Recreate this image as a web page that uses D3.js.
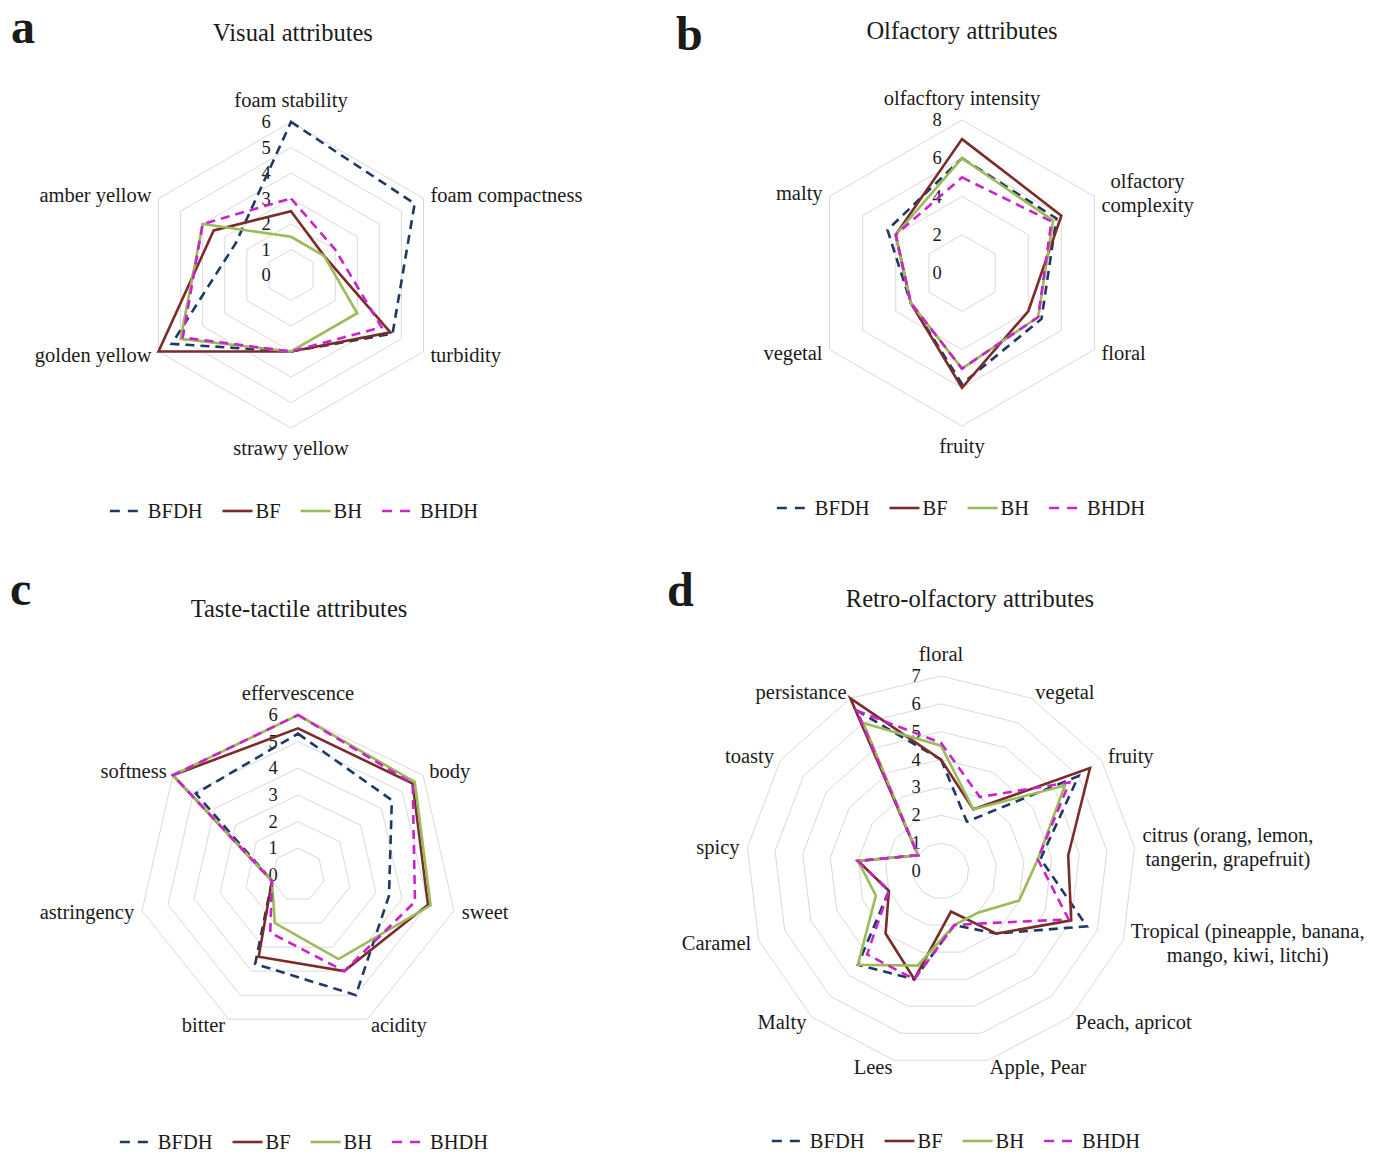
<!DOCTYPE html>
<html>
<head>
<meta charset="utf-8">
<script src="https://cdn.jsdelivr.net/npm/d3@7"></script>
<style>
  body { margin: 0; background: #fff; }
  text { font-family: "Liberation Serif", "Times New Roman", serif; fill: #1a1a1a; }
</style>
</head>
<body>
<svg id="chart" width="1386" height="1156"></svg>
<script>
// Series names shared by all four panels.
const seriesNames = ["BFDH", "BF", "BH", "BHDH"];

// a: visual attributes
const visualAxes = ["foam stability", "foam compactness", "turbidity", "strawy yellow", "golden yellow", "amber yellow"];
const visualTicks = [0, 1, 2, 3, 4, 5, 6];
const visualBFDH = [6, 5.6, 4.6, 3, 5.4, 2.5];
const visualBF = [2.5, 1.5, 4.5, 3, 6, 3.5];
const visualBH = [1.5, 1.5, 3, 3, 5, 4];
const visualBHDH = [3, 2, 4.1, 3, 4.9, 4];

// b: olfactory attributes
const olfactoryAxes = ["olfacftory intensity", "olfactory\ncomplexity", "floral", "fruity", "vegetal", "malty"];
const olfactoryTicks = [0, 2, 4, 6, 8];
const olfactoryBFDH = [6, 5.7, 4.8, 5.8, 3.1, 4.5];
const olfactoryBF = [7, 6, 4, 6, 3.1, 4];
const olfactoryBH = [6, 5.5, 4.6, 5, 3.1, 4];
const olfactoryBHDH = [5, 5.4, 4.6, 5, 3.1, 4];

// c: taste-tactile attributes
const tasteAxes = ["effervescence", "body", "sweet", "acidity", "bitter", "astringency", "softness"];
const tasteTicks = [0, 1, 2, 3, 4, 5, 6];
const tasteBFDH = [5.3, 4.5, 3.5, 5, 3.7, 1, 4.9];
const tasteBF = [5.5, 5.5, 5, 4, 3.4, 1, 6];
const tasteBH = [6, 5.6, 5.1, 3.5, 2, 1, 6];
const tasteBHDH = [6, 5.5, 4.5, 4, 2.4, 1, 6];

// d: retro-olfactory attributes
const retroAxes = ["floral", "vegetal", "fruity", "citrus (orang, lemon,\ntangerin, grapefruit)",
  "Tropical (pineapple, banana,\nmango, kiwi, litchi)", "Peach, apricot", "Apple, Pear", "Lees",
  "Malty", "Caramel", "spicy", "toasty", "persistance"];
const retroTicks = [0, 1, 2, 3, 4, 5, 6, 7];
const retroBFDH = [4, 2, 6, 3.6, 5.6, 3, 2, 4, 4.5, 2, 3, 1, 6.5];
const retroBF = [4, 2.5, 6.5, 4.6, 5, 3, 1.5, 4, 3, 2, 3, 1, 7];
const retroBH = [4.5, 2.5, 5.4, 3.5, 3, 2, 2, 3.5, 4.5, 2.5, 3, 1, 6];
const retroBHDH = [4.6, 3, 5.6, 3.5, 4.9, 2.5, 2, 4, 4, 2, 3, 1, 6.5];

const seriesStyle = {
    BFDH: { color: "#1f3864", dash: "9,6" },
    BF: { color: "#7a2c2a", dash: null },
    BH: { color: "#9bbb59", dash: null },
    BHDH: { color: "#cc22cc", dash: "9,6" }
};

const svg = d3.select("#chart");

function drawRadar(cfg) {
    /*
    Draws one radar panel: grid rings, tick labels, series polygons,
    axis labels, title, panel letter and legend.
    */

    let g = svg.append("g");
    let n = cfg.axes.length;
    let maxVal = d3.max(cfg.ticks);

    let r = d3.scaleLinear().domain([0, maxVal]).range([0, cfg.radius]);
    let angle = d3.scaleLinear().domain([0, n]).range([0, 2 * Math.PI]);

    let plot = g.append("g")
        .attr("transform", "translate(" + cfg.cx + "," + cfg.cy + ")");

    let ring = d3.lineRadial()
        .angle(function(d, i) { return angle(i); })
        .radius(function(d) { return r(d); })
        .curve(d3.curveLinearClosed);

    // Grid rings (skip 0, which is the center).
    plot.selectAll(".ring")
        .data(cfg.ticks.filter(function(t) { return t > 0; }))
        .enter().append("path")
        .attr("class", "ring")
        .attr("d", function(t) { return ring(d3.range(n).map(function() { return t; })); })
        .attr("fill", "none")
        .attr("stroke", "#d9d9d9")
        .attr("stroke-width", 1);

    // Tick labels left of the vertical axis.
    plot.selectAll(".tick")
        .data(cfg.ticks)
        .enter().append("text")
        .attr("x", -25)
        .attr("y", function(t) { return -r(t); })
        .attr("text-anchor", "middle")
        .attr("dominant-baseline", "central")
        .attr("font-size", 18.5)
        .text(function(t) { return t; });

    // Series polygons.
    cfg.series.forEach(function(values, k) {
        let style = seriesStyle[seriesNames[k]];
        plot.append("path")
            .attr("d", ring(values))
            .attr("fill", "none")
            .attr("stroke", style.color)
            .attr("stroke-width", 2.6)
            .attr("stroke-linejoin", "miter")
            .attr("stroke-dasharray", style.dash);
    });

    // Axis labels.
    cfg.axes.forEach(function(label, i) {
        let a = angle(i);
        let s = Math.sin(a), c = Math.cos(a);
        let vx = r(maxVal) * s, vy = -r(maxVal) * c;
        let lines = label.split("\n");
        let t = plot.append("text")
            .attr("font-size", 20.5)
            .attr("dominant-baseline", "central");
        let x, y, anchor;
        if (Math.abs(s) < 0.01) {
            anchor = "middle";
            x = vx;
            y = vy + (c > 0 ? -22 : 20);
        } else {
            anchor = s > 0 ? "start" : "end";
            x = vx + 8 * s;
            y = vy - 7 * c;
        }
        lines.forEach(function(line, j) {
            t.append("tspan")
                .attr("y", y + (j - (lines.length - 1) / 2) * 24)
                .text(line);
        });
        if (lines.length > 1) {
            // Centre the lines within the block, keep block edge at x.
            let widths = [];
            t.selectAll("tspan").each(function() { widths.push(this.getComputedTextLength()); });
            let w = d3.max(widths);
            let mid = anchor === "start" ? x + w / 2 : (anchor === "end" ? x - w / 2 : x);
            t.attr("text-anchor", "middle");
            t.selectAll("tspan").attr("x", mid);
        } else {
            t.attr("text-anchor", anchor);
            t.selectAll("tspan").attr("x", x);
        }
    });

    // Title and panel letter.
    g.append("text")
        .attr("x", cfg.titleX).attr("y", cfg.titleY)
        .attr("text-anchor", "middle")
        .attr("dominant-baseline", "central")
        .attr("font-size", 24.5)
        .text(cfg.title);

    g.append("text")
        .attr("x", cfg.letterX).attr("y", cfg.letterY)
        .attr("font-size", 48)
        .attr("font-weight", "bold")
        .attr("fill", "#000")
        .text(cfg.letter);

    // Legend, centered on legendX.
    let leg = g.append("g");
    let cursor = 0;
    seriesNames.forEach(function(name, k) {
        let style = seriesStyle[name];
        leg.append("line")
            .attr("x1", cursor).attr("x2", cursor + 30)
            .attr("y1", 0).attr("y2", 0)
            .attr("stroke", style.color)
            .attr("stroke-width", 2.6)
            .attr("stroke-dasharray", style.dash ? "10,8" : null);
        let txt = leg.append("text")
            .attr("x", cursor + (style.dash ? 38 : 33))
            .attr("y", 0)
            .attr("dominant-baseline", "central")
            .attr("font-size", 20.5)
            .text(name);
        cursor += (style.dash ? 38 : 33) + txt.node().getComputedTextLength() + 20;
    });
    let legW = cursor - 20;
    leg.attr("transform", "translate(" + (cfg.legendX - legW / 2) + "," + cfg.legendY + ")");
}

drawRadar({
    axes: visualAxes, ticks: visualTicks,
    series: [visualBFDH, visualBF, visualBH, visualBHDH],
    cx: 291, cy: 275, radius: 153,
    title: "Visual attributes", titleX: 293, titleY: 32,
    letter: "a", letterX: 11, letterY: 43,
    legendX: 294, legendY: 511
});

drawRadar({
    axes: olfactoryAxes, ticks: olfactoryTicks,
    series: [olfactoryBFDH, olfactoryBF, olfactoryBH, olfactoryBHDH],
    cx: 962, cy: 273, radius: 153,
    title: "Olfactory attributes", titleX: 962, titleY: 30,
    letter: "b", letterX: 676, letterY: 50,
    legendX: 961, legendY: 508
});

drawRadar({
    axes: tasteAxes, ticks: tasteTicks,
    series: [tasteBFDH, tasteBF, tasteBH, tasteBHDH],
    cx: 298, cy: 875, radius: 160,
    title: "Taste-tactile attributes", titleX: 299, titleY: 608,
    letter: "c", letterX: 10, letterY: 605,
    legendX: 304, legendY: 1142
});

drawRadar({
    axes: retroAxes, ticks: retroTicks,
    series: [retroBFDH, retroBF, retroBH, retroBHDH],
    cx: 941, cy: 871, radius: 195,
    title: "Retro-olfactory attributes", titleX: 970, titleY: 598,
    letter: "d", letterX: 667, letterY: 606,
    legendX: 956, legendY: 1141
});
</script>
</body>
</html>
